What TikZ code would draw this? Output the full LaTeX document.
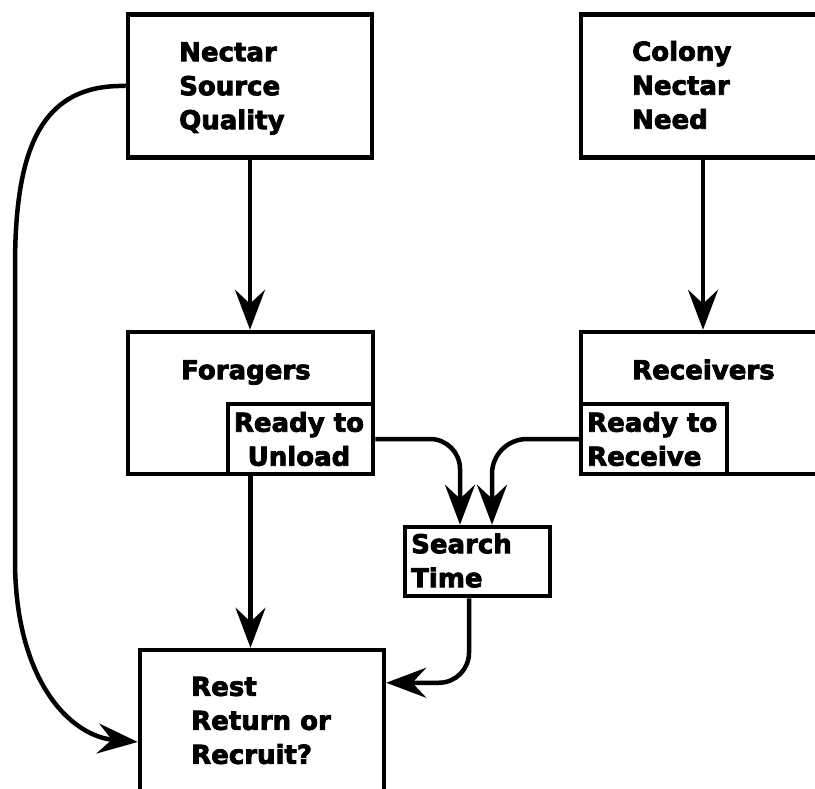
\documentclass[tikz,border=0pt]{standalone}
\usepackage{fontspec}
\setmainfont{DejaVu Sans}[BoldFeatures={FakeBold=3}]
\usetikzlibrary{arrows.meta}

\tikzset{
  box/.style={draw, line width=4.5pt, inner sep=0pt},
  txt/.style={font=\fontsize{26}{34}\selectfont\bfseries, align=left, inner sep=0pt, anchor=west},
  flow/.style={line width=4.5pt, -{Stealth[length=40pt, width=30pt, inset=14pt]}},
}

\begin{document}
\begin{tikzpicture}[x=1pt, y=-1pt]
  \useasboundingbox (0,0) rectangle (815,789);
  \clip (0,0) rectangle (815,789);
  % boxes
  \node[box, minimum width=244, minimum height=143] (quality) at (250,86) {};
  \node[box, minimum width=244, minimum height=143] (need) at (703,86) {};
  \node[box, minimum width=245, minimum height=142] (foragers) at (250.5,403) {};
  \node[box, minimum width=244, minimum height=142] (receivers) at (703,403) {};
  \node[box, minimum width=145, minimum height=70] (unload) at (300.5,439) {};
  \node[box, minimum width=146, minimum height=70] (receive) at (654,439) {};
  \node[box, minimum width=145, minimum height=69] (search) at (477.5,561.5) {};
  \node[box, minimum width=244, minimum height=200] (rest) at (262,750) {};
  % texts
  \node[txt] (qualitytext) at (179,88.5) {Nectar\\Source\\Quality};
  \node[txt] (needtext) at (632,85) {Colony\\Nectar\\Need};
  \node[txt] (foragerstext) at (181,372.5) {Foragers};
  \node[txt] (receiverstext) at (632,369.5) {Receivers};
  \node[txt, anchor=center, align=center] (unloadtext) at (299,439) {Ready to\\Unload};
  \node[txt] (receivetext) at (587,439) {Ready to\\Receive};
  \node[txt] (searchtext) at (411,560.5) {Search\\Time};
  \node[txt] (resttext) at (191,720.5) {Rest\\Return or\\Recruit?};
  % connectors
  \coordinate (reentry) at ([yshift=-35pt]rest.north east);
  \coordinate (loopin) at ([yshift=8pt]rest.west);
  \draw[flow] (quality.south) -- (quality.south |- foragers.north);
  \draw[flow] (need) -- (receivers);
  \draw[flow] (foragers.south) -- (foragers.south |- rest.north);
  \draw[flow, rounded corners=30] (unload.east) -| ([xshift=-17.5pt]search.north);
  \draw[flow, rounded corners=35] (receive.west) -| ([xshift=14.5pt]search.north);
  \draw[flow, rounded corners=30] ([xshift=-8.5pt]search.south) |- (reentry);
  \draw[flow] (quality.west) .. controls (40,84) and (15,150) .. (15,267)
    -- (15,560) .. controls (15,680) and (70,736) .. (loopin);
\end{tikzpicture}
\end{document}
